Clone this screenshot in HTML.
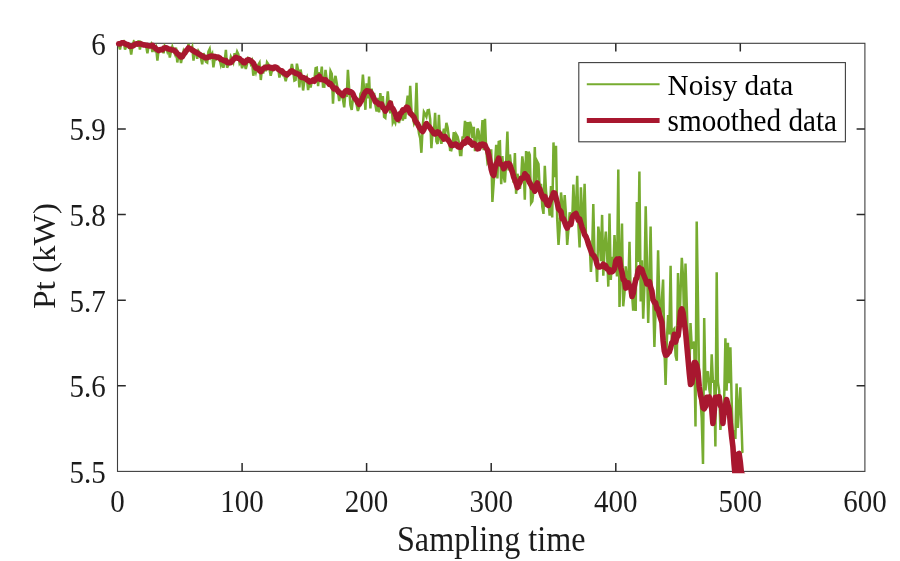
<!DOCTYPE html>
<html lang="en">
<head>
<meta charset="utf-8">
<title>Noisy vs smoothed data</title>
<style>
html,body{margin:0;padding:0;background:#ffffff;}
body{width:900px;height:561px;overflow:hidden;font-family:"Liberation Serif",serif;}
svg{display:block;will-change:transform;}
</style>
</head>
<body>
<svg width="900" height="561" viewBox="0 0 900 561" role="img" aria-label="Noisy data versus smoothed data, Pt (kW) against sampling time">
<defs><clipPath id="ax"><rect x="115.0" y="39.8" width="752.4" height="433.4"/></clipPath></defs>
<rect x="0" y="0" width="900" height="561" fill="#ffffff"/>
<g stroke="#3e3e3e" stroke-width="1.1" fill="none" shape-rendering="geometricPrecision">
<rect x="117.5" y="43.3" width="747.4" height="428.1"/>
<path d="M242.1,471.4 v-8.3 M242.1,43.3 v8.3" stroke="#2a2a2a" stroke-width="1.5"/>
<path d="M366.6,471.4 v-8.3 M366.6,43.3 v8.3" stroke="#2a2a2a" stroke-width="1.5"/>
<path d="M491.2,471.4 v-8.3 M491.2,43.3 v8.3" stroke="#2a2a2a" stroke-width="1.5"/>
<path d="M615.8,471.4 v-8.3 M615.8,43.3 v8.3" stroke="#2a2a2a" stroke-width="1.5"/>
<path d="M740.3,471.4 v-8.3 M740.3,43.3 v8.3" stroke="#2a2a2a" stroke-width="1.5"/>
<path d="M117.5,385.8 h8.3 M864.9,385.8 h-8.3" stroke="#2a2a2a" stroke-width="1.5"/>
<path d="M117.5,300.2 h8.3 M864.9,300.2 h-8.3" stroke="#2a2a2a" stroke-width="1.5"/>
<path d="M117.5,214.5 h8.3 M864.9,214.5 h-8.3" stroke="#2a2a2a" stroke-width="1.5"/>
<path d="M117.5,128.9 h8.3 M864.9,128.9 h-8.3" stroke="#2a2a2a" stroke-width="1.5"/>
</g>
<g clip-path="url(#ax)" fill="none" stroke-linejoin="round" stroke-linecap="round">
<path d="M118.7,45.0 L120.0,49.5 L121.2,42.9 L122.5,42.5 L123.7,41.1 L125.0,49.5 L126.2,46.2 L127.5,45.6 L128.7,47.5 L130.0,46.7 L131.2,54.5 L132.4,46.0 L133.7,41.8 L134.9,46.1 L136.2,44.8 L137.4,44.4 L138.7,40.4 L139.9,49.5 L141.2,42.5 L142.4,43.6 L143.7,45.5 L144.9,45.0 L146.2,46.3 L147.4,53.2 L148.6,46.1 L149.9,46.4 L151.1,44.3 L152.4,52.0 L153.6,47.9 L154.9,50.3 L156.1,47.7 L157.4,60.6 L158.6,49.8 L159.9,49.8 L161.1,50.8 L162.3,49.4 L163.6,53.2 L164.8,45.7 L166.1,46.9 L167.3,51.1 L168.6,47.1 L169.8,57.5 L171.1,50.6 L172.3,46.7 L173.6,50.5 L174.8,53.7 L176.0,47.5 L177.3,62.5 L178.5,54.3 L179.8,53.9 L181.0,63.0 L182.3,56.2 L183.5,51.2 L184.8,54.7 L186.0,52.6 L187.3,51.4 L188.5,44.0 L189.7,49.4 L191.0,49.5 L192.2,46.8 L193.5,60.6 L194.7,49.9 L196.0,51.0 L197.2,58.8 L198.5,51.2 L199.7,53.1 L201.0,58.4 L202.2,64.3 L203.5,53.1 L204.7,58.2 L205.9,61.6 L207.2,62.5 L208.4,51.7 L209.7,49.0 L210.9,56.7 L212.2,54.1 L213.4,67.4 L214.7,59.0 L215.9,59.5 L217.2,57.2 L218.4,57.9 L219.6,59.2 L220.9,65.0 L222.1,61.2 L223.4,67.7 L224.6,62.1 L225.9,49.8 L227.1,67.7 L228.4,64.7 L229.6,64.0 L230.9,56.7 L232.1,59.2 L233.3,62.2 L234.6,53.3 L235.8,56.7 L237.1,51.7 L238.3,54.2 L239.6,63.3 L240.8,61.4 L242.1,68.3 L243.3,63.2 L244.6,64.4 L245.8,69.0 L247.0,64.3 L248.3,58.0 L249.5,58.7 L250.8,63.7 L252.0,61.2 L253.3,75.7 L254.5,68.7 L255.8,72.5 L257.0,67.2 L258.3,64.9 L259.5,62.8 L260.8,80.0 L262.0,68.8 L263.2,73.5 L264.5,64.6 L265.7,71.4 L267.0,62.3 L268.2,64.1 L269.5,69.2 L270.7,75.7 L272.0,70.5 L273.2,68.8 L274.5,67.9 L275.7,67.8 L276.9,69.5 L278.2,68.0 L279.4,77.5 L280.7,72.8 L281.9,71.8 L283.2,75.5 L284.4,75.7 L285.7,81.2 L286.9,75.9 L288.2,72.0 L289.4,71.1 L290.6,71.3 L291.9,64.0 L293.1,70.4 L294.4,80.6 L295.6,80.0 L296.9,63.7 L298.1,70.1 L299.4,87.4 L300.6,69.5 L301.9,77.7 L303.1,90.5 L304.4,80.9 L305.6,80.2 L306.8,77.6 L308.1,90.0 L309.3,82.1 L310.6,87.4 L311.8,81.2 L313.1,80.3 L314.3,80.1 L315.6,68.1 L316.8,67.7 L318.1,86.1 L319.3,72.1 L320.5,77.3 L321.8,66.7 L323.0,86.6 L324.3,86.7 L325.5,69.8 L326.8,80.4 L328.0,81.4 L329.3,86.7 L330.5,71.0 L331.8,73.8 L333.0,103.6 L334.2,81.3 L335.5,75.9 L336.7,83.0 L338.0,91.7 L339.2,101.0 L340.5,92.8 L341.7,95.9 L343.0,99.7 L344.2,107.3 L345.5,91.0 L346.7,97.0 L347.9,69.8 L349.2,89.5 L350.4,105.1 L351.7,109.8 L352.9,99.1 L354.2,95.9 L355.4,100.6 L356.7,104.9 L357.9,111.0 L359.2,106.7 L360.4,93.8 L361.7,91.5 L362.9,74.7 L364.1,89.5 L365.4,109.8 L366.6,83.3 L367.9,98.4 L369.1,76.5 L370.4,108.5 L371.6,88.7 L372.9,96.3 L374.1,92.8 L375.4,105.1 L376.6,111.6 L377.8,97.8 L379.1,112.3 L380.3,93.1 L381.6,104.5 L382.8,96.1 L384.1,116.9 L385.3,117.8 L386.6,105.2 L387.8,91.3 L389.1,107.9 L390.3,113.3 L391.5,100.9 L392.8,122.7 L394.0,120.3 L395.3,122.9 L396.5,115.8 L397.8,114.1 L399.0,123.0 L400.3,115.7 L401.5,114.0 L402.8,120.5 L404.0,108.8 L405.2,119.0 L406.5,105.2 L407.7,95.7 L409.0,115.0 L410.2,85.8 L411.5,110.9 L412.7,116.3 L414.0,123.0 L415.2,119.7 L416.5,82.7 L417.7,123.7 L419.0,133.4 L420.2,138.1 L421.4,152.8 L422.7,127.0 L423.9,112.0 L425.2,114.2 L426.4,116.6 L427.7,110.3 L428.9,110.0 L430.2,119.3 L431.4,148.2 L432.7,130.0 L433.9,132.8 L435.1,112.7 L436.4,141.5 L437.6,144.0 L438.9,114.7 L440.1,138.6 L441.4,143.8 L442.6,136.0 L443.9,128.7 L445.1,134.3 L446.4,122.8 L447.6,127.4 L448.8,136.6 L450.1,149.9 L451.3,150.2 L452.6,145.0 L453.8,132.1 L455.1,145.3 L456.3,134.5 L457.6,136.8 L458.8,141.9 L460.1,155.0 L461.3,155.0 L462.5,137.4 L463.8,136.8 L465.0,120.8 L466.3,138.3 L467.5,122.1 L468.8,142.6 L470.0,121.8 L471.3,126.8 L472.5,138.0 L473.8,126.8 L475.0,151.1 L476.3,143.8 L477.5,128.5 L478.7,131.5 L480.0,147.4 L481.2,139.8 L482.5,120.1 L483.7,150.2 L485.0,118.8 L486.2,150.1 L487.5,162.4 L488.7,160.3 L490.0,166.0 L491.2,149.3 L492.4,202.0 L493.7,182.6 L494.9,165.1 L496.2,144.8 L497.4,178.5 L498.7,141.9 L499.9,141.5 L501.2,184.2 L502.4,156.0 L503.7,176.5 L504.9,182.5 L506.1,162.9 L507.4,131.5 L508.6,170.5 L509.9,154.5 L511.1,166.0 L512.4,173.6 L513.6,182.6 L514.9,153.0 L516.1,193.8 L517.4,173.9 L518.6,178.4 L519.9,188.8 L521.1,179.3 L522.3,156.4 L523.6,166.7 L524.8,199.8 L526.1,151.0 L527.3,181.1 L528.6,151.7 L529.8,155.0 L531.1,203.0 L532.3,201.2 L533.6,189.8 L534.8,147.0 L536.0,189.7 L537.3,161.6 L538.5,164.0 L539.8,191.3 L541.0,183.7 L542.3,206.9 L543.5,213.9 L544.8,165.8 L546.0,190.8 L547.3,202.6 L548.5,203.0 L549.7,215.6 L551.0,186.1 L552.2,217.4 L553.5,142.4 L554.7,177.3 L556.0,145.7 L557.2,218.9 L558.5,245.0 L559.7,228.0 L561.0,192.5 L562.2,204.3 L563.4,220.0 L564.7,195.1 L565.9,214.0 L567.2,245.0 L568.4,229.8 L569.7,212.3 L570.9,216.3 L572.2,220.3 L573.4,184.6 L574.7,216.7 L575.9,211.3 L577.2,175.9 L578.4,224.7 L579.6,247.5 L580.9,187.4 L582.1,216.1 L583.4,226.3 L584.6,183.8 L585.9,233.9 L587.1,236.0 L588.4,242.2 L589.6,242.0 L590.9,272.0 L592.1,254.3 L593.3,204.0 L594.6,259.9 L595.8,254.3 L597.1,282.0 L598.3,226.6 L599.6,236.6 L600.8,261.3 L602.1,214.9 L603.3,275.7 L604.6,247.3 L605.8,231.5 L607.0,251.0 L608.3,286.6 L609.5,213.4 L610.8,280.0 L612.0,256.9 L613.3,272.3 L614.5,235.0 L615.8,259.9 L617.0,276.3 L618.3,169.4 L619.5,307.0 L620.7,270.1 L622.0,223.6 L623.2,306.3 L624.5,292.7 L625.7,266.4 L627.0,279.3 L628.2,289.4 L629.5,241.7 L630.7,295.6 L632.0,293.1 L633.2,310.6 L634.5,277.4 L635.7,310.9 L636.9,201.9 L638.2,262.0 L639.4,171.6 L640.7,301.4 L641.9,260.4 L643.2,318.6 L644.4,286.4 L645.7,206.2 L646.9,258.8 L648.2,322.9 L649.4,280.9 L650.6,226.5 L651.9,300.9 L653.1,293.0 L654.4,347.0 L655.6,308.1 L656.9,305.8 L658.1,250.4 L659.4,304.4 L660.6,322.2 L661.9,298.4 L663.1,279.6 L664.3,343.9 L665.6,385.0 L666.8,342.1 L668.1,315.1 L669.3,334.5 L670.6,265.7 L671.8,343.5 L673.1,330.2 L674.3,328.8 L675.6,355.6 L676.8,360.8 L678.0,273.0 L679.3,334.8 L680.5,293.2 L681.8,257.8 L683.0,275.8 L684.3,326.1 L685.5,263.6 L686.8,306.0 L688.0,350.4 L689.3,376.6 L690.5,323.0 L691.8,347.9 L693.0,347.5 L694.2,341.4 L695.5,426.4 L696.7,221.5 L698.0,303.0 L699.2,388.0 L700.5,399.7 L701.7,417.9 L703.0,464.0 L704.2,318.0 L705.5,390.3 L706.7,374.1 L707.9,371.3 L709.2,388.7 L710.4,395.8 L711.7,354.2 L712.9,381.3 L714.2,380.7 L715.4,446.6 L716.7,272.3 L717.9,382.5 L719.2,390.8 L720.4,430.0 L721.6,413.2 L722.9,416.9 L724.1,404.2 L725.4,338.2 L726.6,390.7 L727.9,342.9 L729.1,383.2 L730.4,347.2 L731.6,398.4 L732.9,442.5 L734.1,430.0 L735.4,438.9 L736.6,383.6 L737.8,428.0 L739.1,408.0 L740.3,387.2 L742.4,452.0" stroke="#77ac30" stroke-width="2.5" stroke-linejoin="miter" stroke-miterlimit="4"/>
<path d="M119.9,44.0 L118.7,43.8 L120.0,43.8 L121.2,43.2 L122.5,42.7 L123.7,42.8 L125.0,43.6 L126.2,44.4 L127.5,44.6 L128.7,45.2 L130.0,46.4 L131.2,46.3 L132.4,46.0 L133.7,45.3 L134.9,44.4 L136.2,43.8 L137.4,44.1 L138.7,43.7 L139.9,43.8 L141.2,44.0 L142.4,44.6 L143.7,44.9 L144.9,45.0 L146.2,45.3 L147.4,45.4 L148.6,45.7 L149.9,45.9 L151.1,45.7 L152.4,45.3 L153.6,46.9 L154.9,47.5 L156.1,48.9 L157.4,49.7 L158.6,50.6 L159.9,49.8 L161.1,49.5 L162.3,49.8 L163.6,48.3 L164.8,48.0 L166.1,47.7 L167.3,48.4 L168.6,49.0 L169.8,49.2 L171.1,49.7 L172.3,50.0 L173.6,50.1 L174.8,51.0 L176.0,51.8 L177.3,53.8 L178.5,54.4 L179.8,56.0 L181.0,57.0 L182.3,56.7 L183.5,54.4 L184.8,53.1 L186.0,51.0 L187.3,49.6 L188.5,48.0 L189.7,48.6 L191.0,49.0 L192.2,50.2 L193.5,50.8 L194.7,51.9 L196.0,52.0 L197.2,53.0 L198.5,53.8 L199.7,54.5 L201.0,55.3 L202.2,56.1 L203.5,56.6 L204.7,57.3 L205.9,57.8 L207.2,57.5 L208.4,57.2 L209.7,56.4 L210.9,56.1 L212.2,56.3 L213.4,56.4 L214.7,56.5 L215.9,56.9 L217.2,57.4 L218.4,57.1 L219.6,57.8 L220.9,59.5 L222.1,59.6 L223.4,60.4 L224.6,60.9 L225.9,60.6 L227.1,62.4 L228.4,62.7 L229.6,62.6 L230.9,62.6 L232.1,61.1 L233.3,59.5 L234.6,58.5 L235.8,57.4 L237.1,58.0 L238.3,58.3 L239.6,58.5 L240.8,60.2 L242.1,60.7 L243.3,62.5 L244.6,62.8 L245.8,61.5 L247.0,60.1 L248.3,59.7 L249.5,60.1 L250.8,60.7 L252.0,61.8 L253.3,63.0 L254.5,65.7 L255.8,68.1 L257.0,68.5 L258.3,68.4 L259.5,70.5 L260.8,71.6 L262.0,70.2 L263.2,68.5 L264.5,67.9 L265.7,67.3 L267.0,67.6 L268.2,67.1 L269.5,67.1 L270.7,68.0 L272.0,67.5 L273.2,68.5 L274.5,67.1 L275.7,67.0 L276.9,67.8 L278.2,69.2 L279.4,70.0 L280.7,70.9 L281.9,70.9 L283.2,72.4 L284.4,73.3 L285.7,74.3 L286.9,74.9 L288.2,73.4 L289.4,72.8 L290.6,71.4 L291.9,70.9 L293.1,71.8 L294.4,72.5 L295.6,73.3 L296.9,73.4 L298.1,74.3 L299.4,74.5 L300.6,76.8 L301.9,77.5 L303.1,77.5 L304.4,78.1 L305.6,78.4 L306.8,79.8 L308.1,80.3 L309.3,81.8 L310.6,81.3 L311.8,81.2 L313.1,79.9 L314.3,81.2 L315.6,79.7 L316.8,77.9 L318.1,78.0 L319.3,76.2 L320.5,79.5 L321.8,79.1 L323.0,79.6 L324.3,80.1 L325.5,79.8 L326.8,81.9 L328.0,82.1 L329.3,84.3 L330.5,83.7 L331.8,85.4 L333.0,87.7 L334.2,88.9 L335.5,88.2 L336.7,89.0 L338.0,91.4 L339.2,92.6 L340.5,92.9 L341.7,94.5 L343.0,95.5 L344.2,92.9 L345.5,91.0 L346.7,90.4 L347.9,90.7 L349.2,92.3 L350.4,91.6 L351.7,92.2 L352.9,93.9 L354.2,97.1 L355.4,99.0 L356.7,100.1 L357.9,102.8 L359.2,104.4 L360.4,102.2 L361.7,100.2 L362.9,97.0 L364.1,94.0 L365.4,92.1 L366.6,90.7 L367.9,90.9 L369.1,91.2 L370.4,92.0 L371.6,93.7 L372.9,96.4 L374.1,98.7 L375.4,101.9 L376.6,101.9 L377.8,103.1 L379.1,104.5 L380.3,104.0 L381.6,104.1 L382.8,107.7 L384.1,108.4 L385.3,111.2 L386.6,108.9 L387.8,107.9 L389.1,106.1 L390.3,103.0 L391.5,107.4 L392.8,108.6 L394.0,110.9 L395.3,113.9 L396.5,117.5 L397.8,119.3 L399.0,117.6 L400.3,113.7 L401.5,112.7 L402.8,109.9 L404.0,110.3 L405.2,109.5 L406.5,107.1 L407.7,107.6 L409.0,110.1 L410.2,113.2 L411.5,114.2 L412.7,115.7 L414.0,117.1 L415.2,120.7 L416.5,122.6 L417.7,124.1 L419.0,126.9 L420.2,128.5 L421.4,130.2 L422.7,131.5 L423.9,129.6 L425.2,125.9 L426.4,123.6 L427.7,125.4 L428.9,126.4 L430.2,128.1 L431.4,129.8 L432.7,131.7 L433.9,133.6 L435.1,134.0 L436.4,133.3 L437.6,131.8 L438.9,132.6 L440.1,134.4 L441.4,136.1 L442.6,136.8 L443.9,139.1 L445.1,136.5 L446.4,139.0 L447.6,139.5 L448.8,140.9 L450.1,143.0 L451.3,145.4 L452.6,145.5 L453.8,144.9 L455.1,144.0 L456.3,144.0 L457.6,146.6 L458.8,147.0 L460.1,147.3 L461.3,145.6 L462.5,144.1 L463.8,142.2 L465.0,143.0 L466.3,140.4 L467.5,139.0 L468.8,142.0 L470.0,141.0 L471.3,143.7 L472.5,145.0 L473.8,143.4 L475.0,144.4 L476.3,146.0 L477.5,148.9 L478.7,148.6 L480.0,144.6 L481.2,145.8 L482.5,144.0 L483.7,144.5 L485.0,144.9 L486.2,148.0 L487.5,150.0 L488.7,154.6 L490.0,161.9 L491.2,169.3 L492.4,173.6 L493.7,175.5 L494.9,168.7 L496.2,163.8 L497.4,162.0 L498.7,158.1 L499.9,163.7 L501.2,164.3 L502.4,165.1 L503.7,168.7 L504.9,167.3 L506.1,163.7 L507.4,164.0 L508.6,163.4 L509.9,164.7 L511.1,168.8 L512.4,172.1 L513.6,176.8 L514.9,179.8 L516.1,183.5 L517.4,187.5 L518.6,184.2 L519.9,182.6 L521.1,178.2 L522.3,178.4 L523.6,178.1 L524.8,173.8 L526.1,175.3 L527.3,176.4 L528.6,180.5 L529.8,182.9 L531.1,185.2 L532.3,187.9 L533.6,187.2 L534.8,191.2 L536.0,185.6 L537.3,183.0 L538.5,187.7 L539.8,188.8 L541.0,193.0 L542.3,196.7 L543.5,198.9 L544.8,196.5 L546.0,201.3 L547.3,204.8 L548.5,205.4 L549.7,201.6 L551.0,198.6 L552.2,196.6 L553.5,192.9 L554.7,193.0 L556.0,197.8 L557.2,202.6 L558.5,208.9 L559.7,210.2 L561.0,211.8 L562.2,218.8 L563.4,218.6 L564.7,222.3 L565.9,225.6 L567.2,228.1 L568.4,225.6 L569.7,223.7 L570.9,224.4 L572.2,217.4 L573.4,215.3 L574.7,214.4 L575.9,213.5 L577.2,216.8 L578.4,220.2 L579.6,219.0 L580.9,223.5 L582.1,227.6 L583.4,230.8 L584.6,234.7 L585.9,236.6 L587.1,239.5 L588.4,244.0 L589.6,247.3 L590.9,250.8 L592.1,254.2 L593.3,255.2 L594.6,257.1 L595.8,259.4 L597.1,264.7 L598.3,267.0 L599.6,267.0 L600.8,266.4 L602.1,265.9 L603.3,264.2 L604.6,267.1 L605.8,265.8 L607.0,268.9 L608.3,269.0 L609.5,272.0 L610.8,270.3 L612.0,271.7 L613.3,270.7 L614.5,268.6 L615.8,260.9 L617.0,259.3 L618.3,262.5 L619.5,259.0 L620.7,267.7 L622.0,272.3 L623.2,279.5 L624.5,280.3 L625.7,288.1 L627.0,285.7 L628.2,282.8 L629.5,286.1 L630.7,287.1 L632.0,296.5 L633.2,293.2 L634.5,285.4 L635.7,279.8 L636.9,277.6 L638.2,270.7 L639.4,267.9 L640.7,270.0 L641.9,269.5 L643.2,273.8 L644.4,276.7 L645.7,279.8 L646.9,284.0 L648.2,282.2 L649.4,281.7 L650.6,287.2 L651.9,291.2 L653.1,299.8 L654.4,302.4 L655.6,302.7 L656.9,308.9 L658.1,308.8 L659.4,314.6 L660.6,318.3 L661.9,322.3 L663.1,340.5 L664.3,350.9 L665.6,355.2 L666.8,355.0 L668.1,353.0 L669.3,351.9 L670.6,347.9 L671.8,342.6 L673.1,341.6 L674.3,334.3 L675.6,342.1 L676.8,337.5 L678.1,335.8 L679.3,326.0 L680.5,311.7 L681.8,308.8 L683.0,312.6 L684.3,322.7 L685.5,330.8 L686.8,345.6 L688.0,358.7 L689.3,373.3 L690.5,384.4 L691.8,383.1 L693.0,374.9 L694.2,362.5 L695.5,362.6 L696.7,365.1 L698.0,372.1 L699.2,386.3 L700.5,395.1 L701.7,399.5 L703.0,407.8 L704.2,408.8 L705.5,406.4 L706.7,397.2 L707.9,397.6 L709.2,397.0 L710.4,402.0 L711.7,408.7 L712.9,423.4 L714.2,411.8 L715.4,397.3 L716.7,398.9 L717.9,397.1 L719.2,396.8 L720.4,405.7 L721.6,406.9 L722.9,423.4 L724.1,412.1 L725.4,406.3 L726.6,399.5 L727.9,404.6 L729.1,409.0 L730.4,424.5 L731.6,436.2 L732.9,446.7 L734.1,464.6 L735.4,478.0 L736.6,466.2 L737.8,454.2 L739.1,453.5 L740.3,462.0 L741.6,474.7 L742.8,474.8" stroke="#a8172f" stroke-width="5.6"/>
</g>
<g font-family="'Liberation Serif', serif" font-size="29.0" fill="#1c1c1c">
<text transform="translate(117.5,511.6) scale(1,1.08)" text-anchor="middle">0</text>
<text transform="translate(242.1,511.6) scale(1,1.08)" text-anchor="middle">100</text>
<text transform="translate(366.6,511.6) scale(1,1.08)" text-anchor="middle">200</text>
<text transform="translate(491.2,511.6) scale(1,1.08)" text-anchor="middle">300</text>
<text transform="translate(615.8,511.6) scale(1,1.08)" text-anchor="middle">400</text>
<text transform="translate(740.3,511.6) scale(1,1.08)" text-anchor="middle">500</text>
<text transform="translate(864.9,511.6) scale(1,1.08)" text-anchor="middle">600</text>
<text transform="translate(105.8,482.8) scale(1,1.08)" text-anchor="end">5.5</text>
<text transform="translate(105.8,397.2) scale(1,1.08)" text-anchor="end">5.6</text>
<text transform="translate(105.8,311.6) scale(1,1.08)" text-anchor="end">5.7</text>
<text transform="translate(105.8,225.9) scale(1,1.08)" text-anchor="end">5.8</text>
<text transform="translate(105.8,140.3) scale(1,1.08)" text-anchor="end">5.9</text>
<text transform="translate(105.8,54.7) scale(1,1.08)" text-anchor="end">6</text>
</g>
<g font-family="'Liberation Serif', serif" font-size="32" fill="#1c1c1c">
<text transform="translate(491.2,551.1) scale(1.005,1.10)" text-anchor="middle">Sampling time</text>
<text transform="translate(54.7,256) scale(1,1.085) rotate(-90)" text-anchor="middle" font-size="30.6">Pt (kW)</text>
</g>
<rect x="578.8" y="62.6" width="266.6" height="79.2" fill="#ffffff" stroke="#3e3e3e" stroke-width="1.1"/>
<path d="M586.8,84.3 H659.6" stroke="#77ac30" stroke-width="2.0"/>
<path d="M586.8,120.5 H659.6" stroke="#a8172f" stroke-width="4.8"/>
<g font-family="'Liberation Serif', serif" font-size="29.2" fill="#000000">
<text transform="translate(667.6,95.1) scale(1,1.04)">Noisy data</text>
<text transform="translate(667.6,131.3) scale(1,1.06)">smoothed data</text>
</g>
</svg>
</body>
</html>
